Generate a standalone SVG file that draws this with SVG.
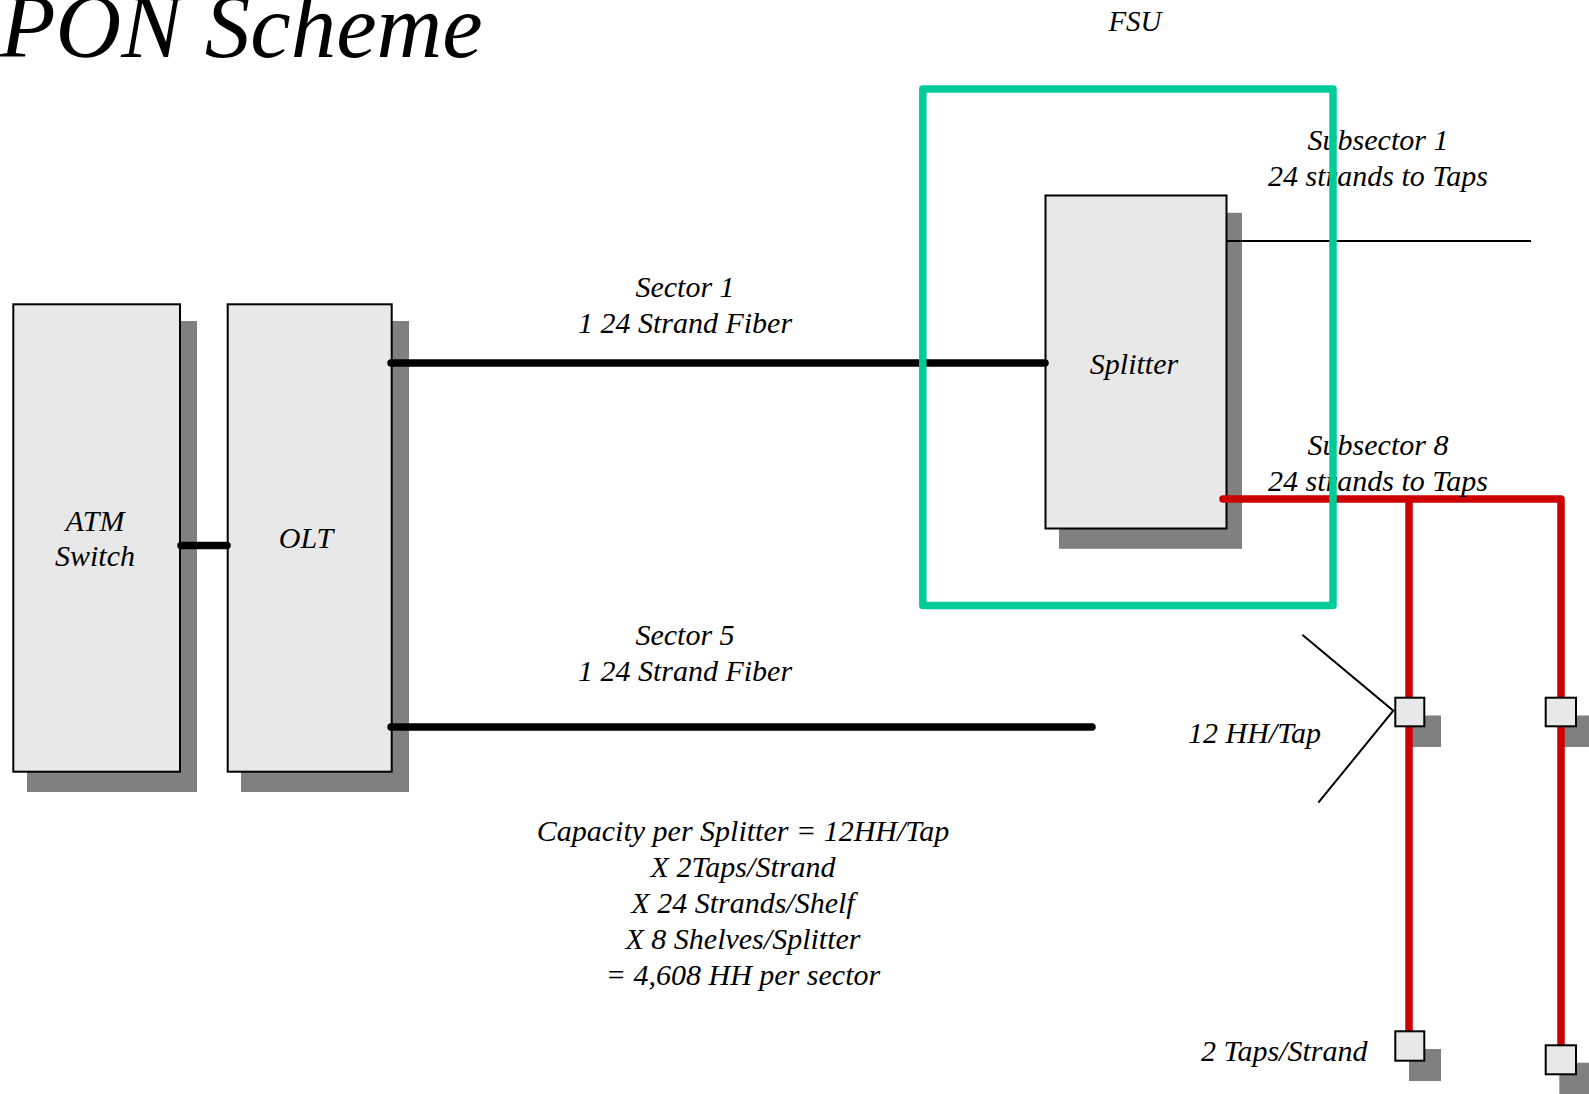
<svg xmlns="http://www.w3.org/2000/svg" width="1589" height="1094" viewBox="0 0 1589 1094">
<style>
text{font-family:"Liberation Serif","Times New Roman",serif;font-style:italic;fill:#000;font-size:30px}
.m{text-anchor:middle}
.box{fill:#e8e8e8;stroke:#000;stroke-width:2}
.sh{fill:#808080}
.fiber{stroke:#000;stroke-width:7.5;stroke-linecap:round;fill:none}
.red{stroke:#cc0000;stroke-width:7.5;fill:none;stroke-linejoin:round}
.thin{stroke:#000;stroke-width:2;fill:none}
</style>
<rect width="1589" height="1094" fill="#fff"/>
<text x="0" y="57" style="font-size:91px">PON Scheme</text>
<text class="m" x="1135" y="31" style="font-size:29px">FSU</text>

<g id="atm-switch">
<rect class="sh" x="27" y="321" width="170" height="471"/>
<rect class="box" x="13.3" y="304.3" width="166.7" height="467.4"/>
<text class="m" x="95" y="530.7">ATM</text>
<text class="m" x="95" y="566">Switch</text>
</g>

<g id="olt">
<rect class="sh" x="241" y="321" width="168" height="471"/>
<rect class="box" x="227.7" y="304.3" width="164" height="467.4"/>
<text class="m" x="306" y="548">OLT</text>
</g>

<g id="splitter">
<rect class="sh" x="1059" y="212.8" width="183" height="336"/>
<rect class="box" x="1045.5" y="195.5" width="181" height="333"/>
<text class="m" x="1134" y="374">Splitter</text>
</g>

<g id="taps-shadows">
<rect class="sh" x="1409" y="715.5" width="32" height="31.5"/>
<rect class="sh" x="1559.3" y="715.5" width="32" height="31.5"/>
<rect class="sh" x="1409" y="1049" width="32" height="32"/>
<rect class="sh" x="1559.3" y="1062.7" width="32" height="32"/>
</g>

<g id="connectors">
<path class="fiber" d="M181,545.5 H227"/>
<path class="fiber" d="M391,363 H1045"/>
<path class="fiber" d="M391,727 H1092"/>
<path class="thin" d="M1227,241 H1531"/>
<path class="thin" d="M1302.3,634.7 L1393.3,710.7 L1318.3,802.7"/>
<path class="red" d="M1223,499 H1561 V1046" style="stroke-linecap:round"/>
<path class="red" d="M1409,499 V1032"/>
</g>

<g id="tap-1a"><rect class="box" x="1395.3" y="697.7" width="29" height="28.6"/></g>
<g id="tap-2a"><rect class="box" x="1545.7" y="697.7" width="30.3" height="28.6"/></g>
<g id="tap-1b"><rect class="box" x="1395.3" y="1031.3" width="29" height="29.4"/></g>
<g id="tap-2b"><rect class="box" x="1545.7" y="1045.3" width="30.3" height="29"/></g>

<g id="labels">
<text class="m" x="1378" y="150">Subsector 1</text>
<text class="m" x="1378" y="186">24 strands to Taps</text>
<text class="m" x="1378" y="455">Subsector 8</text>
<text class="m" x="1378" y="491">24 strands to Taps</text>
<text class="m" x="685" y="297">Sector 1</text>
<text class="m" x="685" y="332.5">1 24 Strand Fiber</text>
<text class="m" x="685" y="645">Sector 5</text>
<text class="m" x="685" y="680.5">1 24 Strand Fiber</text>
<text x="1188" y="743">12 HH/Tap</text>
<text x="1201" y="1061">2 Taps/Strand</text>
<text class="m" x="743" y="841">Capacity per Splitter = 12HH/Tap</text>
<text class="m" x="743" y="877">X 2Taps/Strand</text>
<text class="m" x="743" y="913">X 24 Strands/Shelf</text>
<text class="m" x="743" y="949">X 8 Shelves/Splitter</text>
<text class="m" x="743" y="985">= 4,608 HH per sector</text>
</g>

<g id="fsu">
<rect x="922.8" y="89" width="410.2" height="516.5" fill="none" stroke="#00cc99" stroke-width="7.5" stroke-linejoin="round"/>
</g>
</svg>
